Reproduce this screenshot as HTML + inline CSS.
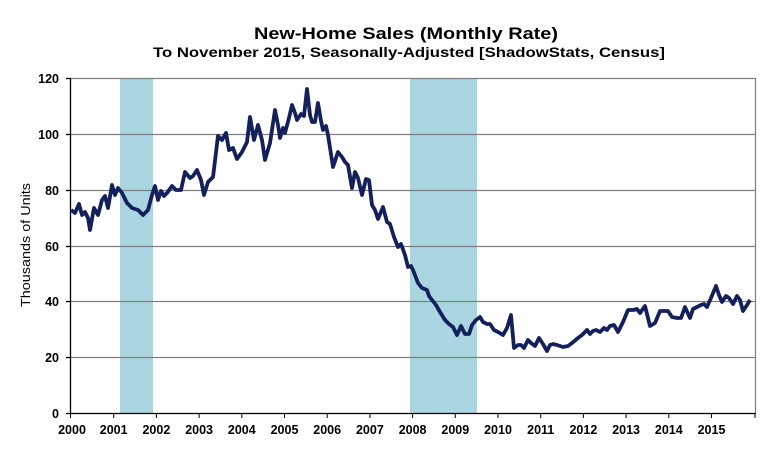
<!DOCTYPE html>
<html><head><meta charset="utf-8"><style>
html,body{margin:0;padding:0;background:#fff;}
svg{display:block;}
text{font-family:"Liberation Sans",Arial,sans-serif;font-weight:bold;fill:#000;}
</style></head><body>
<svg width="781" height="461" viewBox="0 0 781 461" xmlns="http://www.w3.org/2000/svg">
<rect width="781" height="461" fill="#fff"/>
<text x="406" y="39" font-size="17" text-anchor="middle" textLength="304" lengthAdjust="spacingAndGlyphs">New-Home Sales (Monthly Rate)</text>
<text x="409" y="57" font-size="14" text-anchor="middle" textLength="512" lengthAdjust="spacingAndGlyphs">To November 2015, Seasonally-Adjusted [ShadowStats, Census]</text>
<rect x="120" y="78" width="33" height="335" fill="#a9d6e0"/>
<rect x="410" y="78" width="67" height="335" fill="#a9d6e0"/>
<g stroke="#7f7f7f" stroke-width="1.2">
<line x1="71" y1="78.5" x2="755" y2="78.5"/>
<line x1="71" y1="134.5" x2="755" y2="134.5"/>
<line x1="71" y1="190.5" x2="755" y2="190.5"/>
<line x1="71" y1="246.5" x2="755" y2="246.5"/>
<line x1="71" y1="301.5" x2="755" y2="301.5"/>
<line x1="71" y1="357.5" x2="755" y2="357.5"/>
<line x1="755.5" y1="78" x2="755.5" y2="413"/>
</g>
<g stroke="#000" stroke-width="1.3">
<line x1="70.5" y1="78" x2="70.5" y2="414"/>
<line x1="70" y1="413.5" x2="756" y2="413.5"/>
<line x1="66" y1="78.5" x2="71" y2="78.5"/>
<line x1="66" y1="134.5" x2="71" y2="134.5"/>
<line x1="66" y1="190.5" x2="71" y2="190.5"/>
<line x1="66" y1="246.5" x2="71" y2="246.5"/>
<line x1="66" y1="301.5" x2="71" y2="301.5"/>
<line x1="66" y1="357.5" x2="71" y2="357.5"/>
<line x1="66" y1="413.5" x2="71" y2="413.5"/>
</g>
<g stroke="#000" stroke-width="1">
<line x1="70.5" y1="413" x2="70.5" y2="418"/>
<line x1="113.7" y1="413" x2="113.7" y2="418"/><line x1="156.4" y1="413" x2="156.4" y2="418"/>
<line x1="199.1" y1="413" x2="199.1" y2="418"/><line x1="241.8" y1="413" x2="241.8" y2="418"/>
<line x1="284.5" y1="413" x2="284.5" y2="418"/><line x1="327.2" y1="413" x2="327.2" y2="418"/>
<line x1="369.9" y1="413" x2="369.9" y2="418"/><line x1="412.6" y1="413" x2="412.6" y2="418"/>
<line x1="455.3" y1="413" x2="455.3" y2="418"/><line x1="498" y1="413" x2="498" y2="418"/>
<line x1="540.7" y1="413" x2="540.7" y2="418"/><line x1="583.4" y1="413" x2="583.4" y2="418"/>
<line x1="626.1" y1="413" x2="626.1" y2="418"/><line x1="668.8" y1="413" x2="668.8" y2="418"/>
<line x1="711.5" y1="413" x2="711.5" y2="418"/><line x1="755" y1="413" x2="755" y2="418"/>
</g>
<g font-size="12.5" text-anchor="end">
<text x="59" y="83">120</text><text x="59" y="139">100</text><text x="59" y="195">80</text>
<text x="59" y="251">60</text><text x="59" y="306">40</text><text x="59" y="362">20</text><text x="59" y="418">0</text>
</g>
<g font-size="12.5" text-anchor="middle">
<text x="72" y="434">2000</text><text x="113.7" y="434">2001</text><text x="156.4" y="434">2002</text>
<text x="199.1" y="434">2003</text><text x="241.8" y="434">2004</text><text x="284.5" y="434">2005</text>
<text x="327.2" y="434">2006</text><text x="369.9" y="434">2007</text><text x="412.6" y="434">2008</text>
<text x="455.3" y="434">2009</text><text x="498" y="434">2010</text><text x="540.7" y="434">2011</text>
<text x="583.4" y="434">2012</text><text x="626.1" y="434">2013</text><text x="668.8" y="434">2014</text>
<text x="711.5" y="434">2015</text>
</g>
<text transform="translate(30,245) rotate(-90)" font-size="13" text-anchor="middle" textLength="124" lengthAdjust="spacingAndGlyphs" style="font-weight:normal">Thousands of Units</text>
<polyline fill="none" stroke="#14205e" stroke-width="3.8" stroke-linejoin="round" points="
71,210 75,213 79,204 82,215 85,212 88,218 90,230 94,208 98,215 102,200 105,196 108,208 112,185 115,195 118,188 122,193 127,203 132,208 138,210 143,215 148,210 152,195 155,186 158,200 161,191 164,196 167,193 172,186 176,190 181,190 185,172 190,178 193,176 197,170 201,180 204,195 208,182 213,177 218,136 222,140 226,133 229,150 233,148 237,159 242,152 247,142 250,117 254,140 258,125 262,140 265,160 270,143 275,110 278,125 280,138 283,128 285,133 289,118 292,105 295,113 297,120 301,114 304,116 307,89 310,115 312,122 315,122 318,103 321,121 323,130 326,126 328,135 333,167 338,152 342,157 345,162 348,165 352,188 355,172 358,178 362,195 366,179 369,180 372,205 375,210 378,219 383,207 387,222 390,224 394,237 398,247 401,244 405,255 408,267 411,266 413,270 418,283 422,288 427,290 429,296 432,300 436,305 440,312 445,320 449,324 453,327 457,335 461,326 465,334 469,334 472,325 476,320 480,317 483,322 487,324 490,324 494,330 498,332 503,335 507,328 511,315 514,348 518,345 521,345 524,348 528,340 531,343 535,346 539,338 543,344 547,351 550,345 553,344 557,345 563,347 568,346 572,343 578,338 582,335 587,330 590,334 593,331 596,330 600,332 604,328 607,330 610,326 614,325 618,332 623,322 628,310 633,310 637,309 640,313 645,306 650,326 655,323 660,311 664,311 668,311 672,317 677,318 681,318 685,307 690,318 693,309 697,307 701,305 704,304 707,307 711,298 716,286 719,295 722,302 726,296 729,298 733,304 737,296 740,300 743,311 747,305 750,300"/>
</svg>
</body></html>
